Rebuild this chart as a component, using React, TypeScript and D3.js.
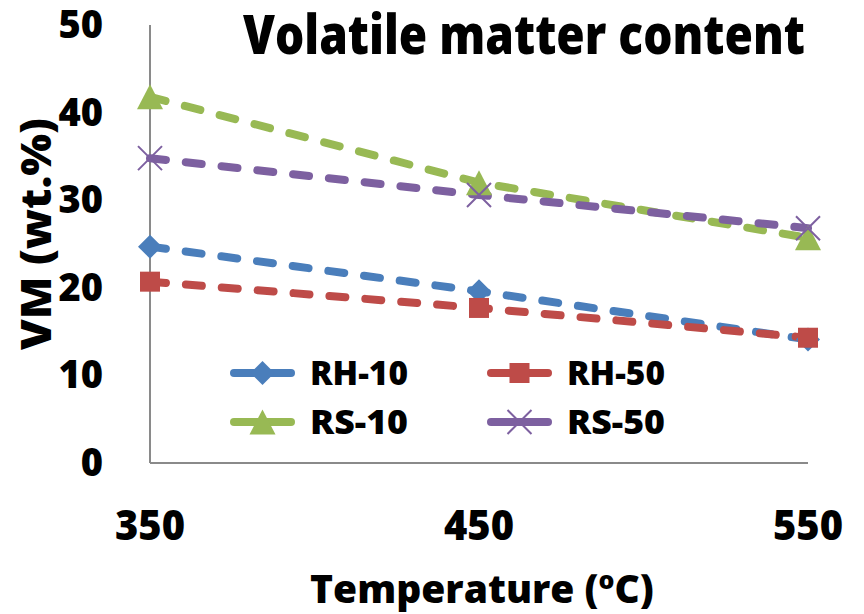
import React from "react";
import * as d3 from "d3";

// Volatile matter (wt.%) of the chars at each pyrolysis temperature
const temperatures = [350, 450, 550];
const seriesNames = ["RH-10", "RH-50", "RS-10", "RS-50"];
const rh10 = [24.7, 19.6, 14.1];
const rh50 = [20.7, 17.7, 14.3];
const rs10 = [41.8, 32.0, 25.7];
const rs50 = [34.8, 30.6, 26.8];
const yTicks = [0, 10, 20, 30, 40, 50];
const xTicks = [350, 450, 550];

const W = 864;
const H = 614;
const FONT = "'Open Sans', 'DejaVu Sans', sans-serif";
const WEIGHT = 800;

type Shape = "diamond" | "square" | "triangle" | "x";

const series: { name: string; values: number[]; color: string; shape: Shape }[] = [
  { name: seriesNames[0], values: rh10, color: "#4a7ebb", shape: "diamond" },
  { name: seriesNames[1], values: rh50, color: "#be4b48", shape: "square" },
  { name: seriesNames[2], values: rs10, color: "#98b954", shape: "triangle" },
  { name: seriesNames[3], values: rs50, color: "#7d60a0", shape: "x" },
];

function Marker({ x, y, shape, color }: { x: number; y: number; shape: Shape; color: string }) {
  if (shape === "diamond") {
    const r = 12;
    return <path d={`M${x},${y - r}L${x + r},${y}L${x},${y + r}L${x - r},${y}Z`} fill={color} />;
  }
  if (shape === "square") {
    const r = 10;
    return <rect x={x - r} y={y - r} width={2 * r} height={2 * r} fill={color} />;
  }
  if (shape === "triangle") {
    const hw = 13;
    const hh = 12.5;
    return <path d={`M${x},${y - hh}L${x + hw},${y + hh}L${x - hw},${y + hh}Z`} fill={color} />;
  }
  const r = 12;
  return (
    <path
      d={`M${x - r},${y - r}L${x + r},${y + r}M${x - r},${y + r}L${x + r},${y - r}`}
      stroke={color}
      strokeWidth={2}
      fill="none"
    />
  );
}

export default function App() {
  const x = d3.scaleLinear().domain([350, 550]).range([150, 808]);
  const y = d3.scaleLinear().domain([0, 50]).range([463, 25]);

  const line = d3
    .line<number>()
    .x((_, i) => x(temperatures[i]))
    .y((v) => y(v));

  const legendRows = [
    { sx: 230, tx: 310, cy: 373 },
    { sx: 487, tx: 567, cy: 373 },
    { sx: 230, tx: 310, cy: 422 },
    { sx: 487, tx: 567, cy: 422 },
  ];

  return (
    <svg
      width={W}
      height={H}
      viewBox={`0 0 ${W} ${H}`}
      style={{ position: "absolute", left: 0, top: 0, background: "#fff" }}
    >
      {/* axes */}
      <line x1={x(350)} y1={y(0)} x2={x(350)} y2={y(50)} stroke="#8a8a8a" strokeWidth={2} />
      <line x1={x(350)} y1={y(0)} x2={x(550)} y2={y(0)} stroke="#8a8a8a" strokeWidth={2} />

      {/* y tick labels */}
      {yTicks.map((t) => (
        <text
          key={t}
          x={103}
          y={y(t) + 13}
          textAnchor="end"
          fontFamily={FONT}
          fontWeight={WEIGHT}
          fontSize={38}
          fill="#000"
        >
          {t}
        </text>
      ))}

      {/* x tick labels */}
      {xTicks.map((t) => (
        <text
          key={t}
          x={x(t)}
          y={540}
          textAnchor="middle"
          fontFamily={FONT}
          fontWeight={WEIGHT}
          fontSize={42}
          textLength={70}
          lengthAdjust="spacingAndGlyphs"
          fill="#000"
        >
          {t}
        </text>
      ))}

      {/* axis titles */}
      <text x={310} y={603} fontFamily={FONT} fontWeight={WEIGHT} fontSize={39} fill="#000">
        <tspan>Temperature (</tspan>
        <tspan fontSize={25} dy={-14}>
          o
        </tspan>
        <tspan dy={14}>C)</tspan>
      </text>
      <text
        transform="translate(51,350) rotate(-90)"
        fontFamily={FONT}
        fontWeight={WEIGHT}
        fontSize={42}
        textLength={232}
        lengthAdjust="spacingAndGlyphs"
        fill="#000"
      >
        VM (wt.%)
      </text>

      {/* title */}
      <text
        x={243}
        y={54}
        fontFamily={FONT}
        fontWeight={WEIGHT}
        fontSize={55}
        textLength={562}
        lengthAdjust="spacingAndGlyphs"
        fill="#000"
      >
        Volatile matter content
      </text>

      {/* series lines */}
      {series.map((s) => (
        <path
          key={s.name}
          d={line(s.values) ?? ""}
          fill="none"
          stroke={s.color}
          strokeWidth={8}
          strokeDasharray="16 20"
          strokeLinecap="round"
        />
      ))}

      {/* markers */}
      {series.map((s) =>
        s.values.map((v, i) => (
          <Marker key={`${s.name}-${i}`} x={x(temperatures[i])} y={y(v)} shape={s.shape} color={s.color} />
        ))
      )}

      {/* legend */}
      {series.map((s, i) => {
        const r = legendRows[i];
        return (
          <g key={`lg-${s.name}`}>
            <line
              x1={r.sx + 4}
              y1={r.cy}
              x2={r.sx + 17}
              y2={r.cy}
              stroke={s.color}
              strokeWidth={8}
              strokeLinecap="round"
            />
            <line
              x1={r.sx + 48}
              y1={r.cy}
              x2={r.sx + 61}
              y2={r.cy}
              stroke={s.color}
              strokeWidth={8}
              strokeLinecap="round"
            />
            <line x1={r.sx + 17} y1={r.cy} x2={r.sx + 48} y2={r.cy} stroke={s.color} strokeWidth={8} />
            <Marker x={r.sx + 32.5} y={r.cy} shape={s.shape} color={s.color} />
            <text
              x={r.tx}
              y={r.cy + 12}
              fontFamily={FONT}
              fontWeight={WEIGHT}
              fontSize={33}
              textLength={98}
              lengthAdjust="spacingAndGlyphs"
              fill="#000"
            >
              {s.name}
            </text>
          </g>
        );
      })}
    </svg>
  );
}
